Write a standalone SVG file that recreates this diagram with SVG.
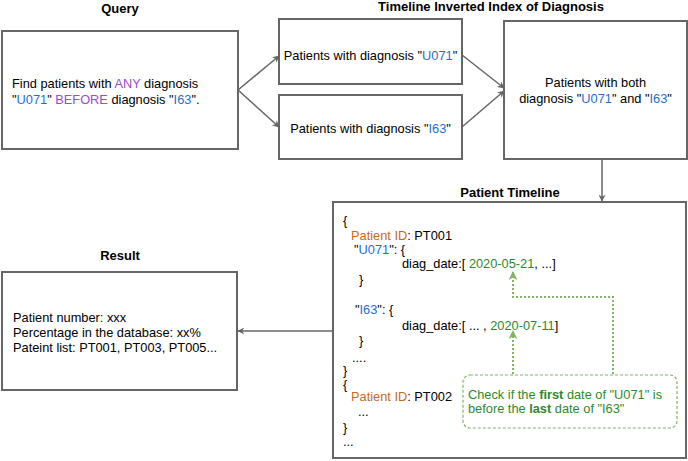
<svg xmlns="http://www.w3.org/2000/svg" width="688" height="461" viewBox="0 0 688 461">
<defs>
<style>
.box{fill:#fff;stroke:#666;stroke-width:2}
.t{font-family:"Liberation Sans",Arial,sans-serif;font-size:12.8px;fill:#000}
.h{font-family:"Liberation Sans",Arial,sans-serif;font-size:13px;font-weight:bold;fill:#000}
.blue{fill:#1f6fcf}
.purple{fill:#9b4dca}
.orange{fill:#cc6a1c}
.green{fill:#2c8a2c}
.g{font-family:"Liberation Sans",Arial,sans-serif;font-size:12.8px;fill:#2c8a2c}
.conn{fill:none;stroke:#666;stroke-width:1.5}
.gconn{fill:none;stroke:#82b366;stroke-width:2;stroke-dasharray:2 2}
</style>
<marker id="ah" viewBox="0 0 10 10" refX="9" refY="5" markerWidth="7" markerHeight="7" markerUnits="userSpaceOnUse" orient="auto">
<path d="M0,0 L10,5 L0,10 L3,5 Z" fill="#666"/>
</marker>
<marker id="gh" viewBox="0 0 10 10" refX="9" refY="5" markerWidth="9" markerHeight="9" markerUnits="userSpaceOnUse" orient="auto">
<path d="M0,0 L10,5 L0,10 L3,5 Z" fill="#82b366"/>
</marker>
</defs>
<rect width="688" height="461" fill="#fff"/>

<g id="titles">
<text class="h" x="120" y="13" text-anchor="middle">Query</text>
<text class="h" x="491" y="11" text-anchor="middle">Timeline Inverted Index of Diagnosis</text>
<text class="h" x="510" y="197" text-anchor="middle">Patient Timeline</text>
<text class="h" x="120" y="260" text-anchor="middle">Result</text>
</g>

<g id="query">
<rect class="box" x="2" y="31" width="236" height="118"/>
<text class="t" x="12" y="88">Find patients with <tspan class="purple">ANY</tspan> diagnosis</text>
<text class="t" x="12" y="104">"<tspan class="blue">U071</tspan>" <tspan class="purple">BEFORE</tspan> diagnosis "<tspan class="blue">I63</tspan>".</text>
</g>

<g id="u071">
<rect class="box" x="279" y="19" width="183" height="65"/>
<text class="t" x="370.5" y="60" text-anchor="middle">Patients with diagnosis "<tspan class="blue">U071</tspan>"</text>
</g>

<g id="i63">
<rect class="box" x="279" y="95" width="183" height="64"/>
<text class="t" x="370.5" y="133" text-anchor="middle">Patients with diagnosis "<tspan class="blue">I63</tspan>"</text>
</g>

<g id="both">
<rect class="box" x="504" y="21" width="183" height="138"/>
<text class="t" x="595.5" y="87" text-anchor="middle">Patients with both</text>
<text class="t" x="595.5" y="103" text-anchor="middle">diagnosis "<tspan class="blue">U071</tspan>" and "<tspan class="blue">I63</tspan>"</text>
</g>

<g id="result">
<rect class="box" x="2" y="272" width="235" height="118"/>
<text class="t" x="13" y="322">Patient number: xxx</text>
<text class="t" x="13" y="337">Percentage in the database: xx%</text>
<text class="t" x="13" y="352">Pateint list: PT001, PT003, PT005...</text>
</g>

<g id="timeline">
<rect class="box" x="333" y="202" width="353" height="256"/>
<text class="t" x="343" y="225">{</text>
<text class="t" x="351" y="240"><tspan class="orange">Patient ID</tspan>: PT001</text>
<text class="t" x="354" y="254">"<tspan class="blue">U071</tspan>": {</text>
<text class="t" x="402" y="268">diag_date:[ <tspan class="green">2020-05-21</tspan>, ...]</text>
<text class="t" x="359" y="284">}</text>
<text class="t" x="355" y="314">"<tspan class="blue">I63</tspan>": {</text>
<text class="t" x="402" y="330">diag_date:[ ... , <tspan class="green">2020-07-11</tspan>]</text>
<text class="t" x="359" y="345">}</text>
<text class="t" x="352" y="362">....</text>
<text class="t" x="343" y="375">}</text>
<text class="t" x="343" y="389">{</text>
<text class="t" x="351" y="401"><tspan class="orange">Patient ID</tspan>: PT002</text>
<text class="t" x="358" y="416">...</text>
<text class="t" x="343" y="432">}</text>
<text class="t" x="343" y="446">...</text>
</g>

<g id="note">
<rect x="463" y="375" width="214" height="53" rx="7" ry="7" fill="#fff" stroke="#82b366" stroke-width="1.2" stroke-dasharray="3 2"/>
<text class="g" x="468" y="399">Check if the <tspan font-weight="bold">first</tspan> date of "U071" is</text>
<text class="g" x="468" y="413">before the <tspan font-weight="bold">last</tspan> date of "I63"</text>
</g>

<g id="connectors">
<path class="conn" d="M238,90 L279,56" marker-end="url(#ah)"/>
<path class="conn" d="M238,90 L279,127" marker-end="url(#ah)"/>
<path class="conn" d="M462,55 L504,88" marker-end="url(#ah)"/>
<path class="conn" d="M462,127 L504,91" marker-end="url(#ah)"/>
<path class="conn" d="M602,159 L602,201" marker-end="url(#ah)"/>
<path class="conn" d="M333,331 L238,331" marker-end="url(#ah)"/>
<path class="gconn" d="M513,374 L513,331" marker-end="url(#gh)"/>
<path class="gconn" d="M613,374 L613,297 L513,297 L513,272" marker-end="url(#gh)"/>
</g>
</svg>
